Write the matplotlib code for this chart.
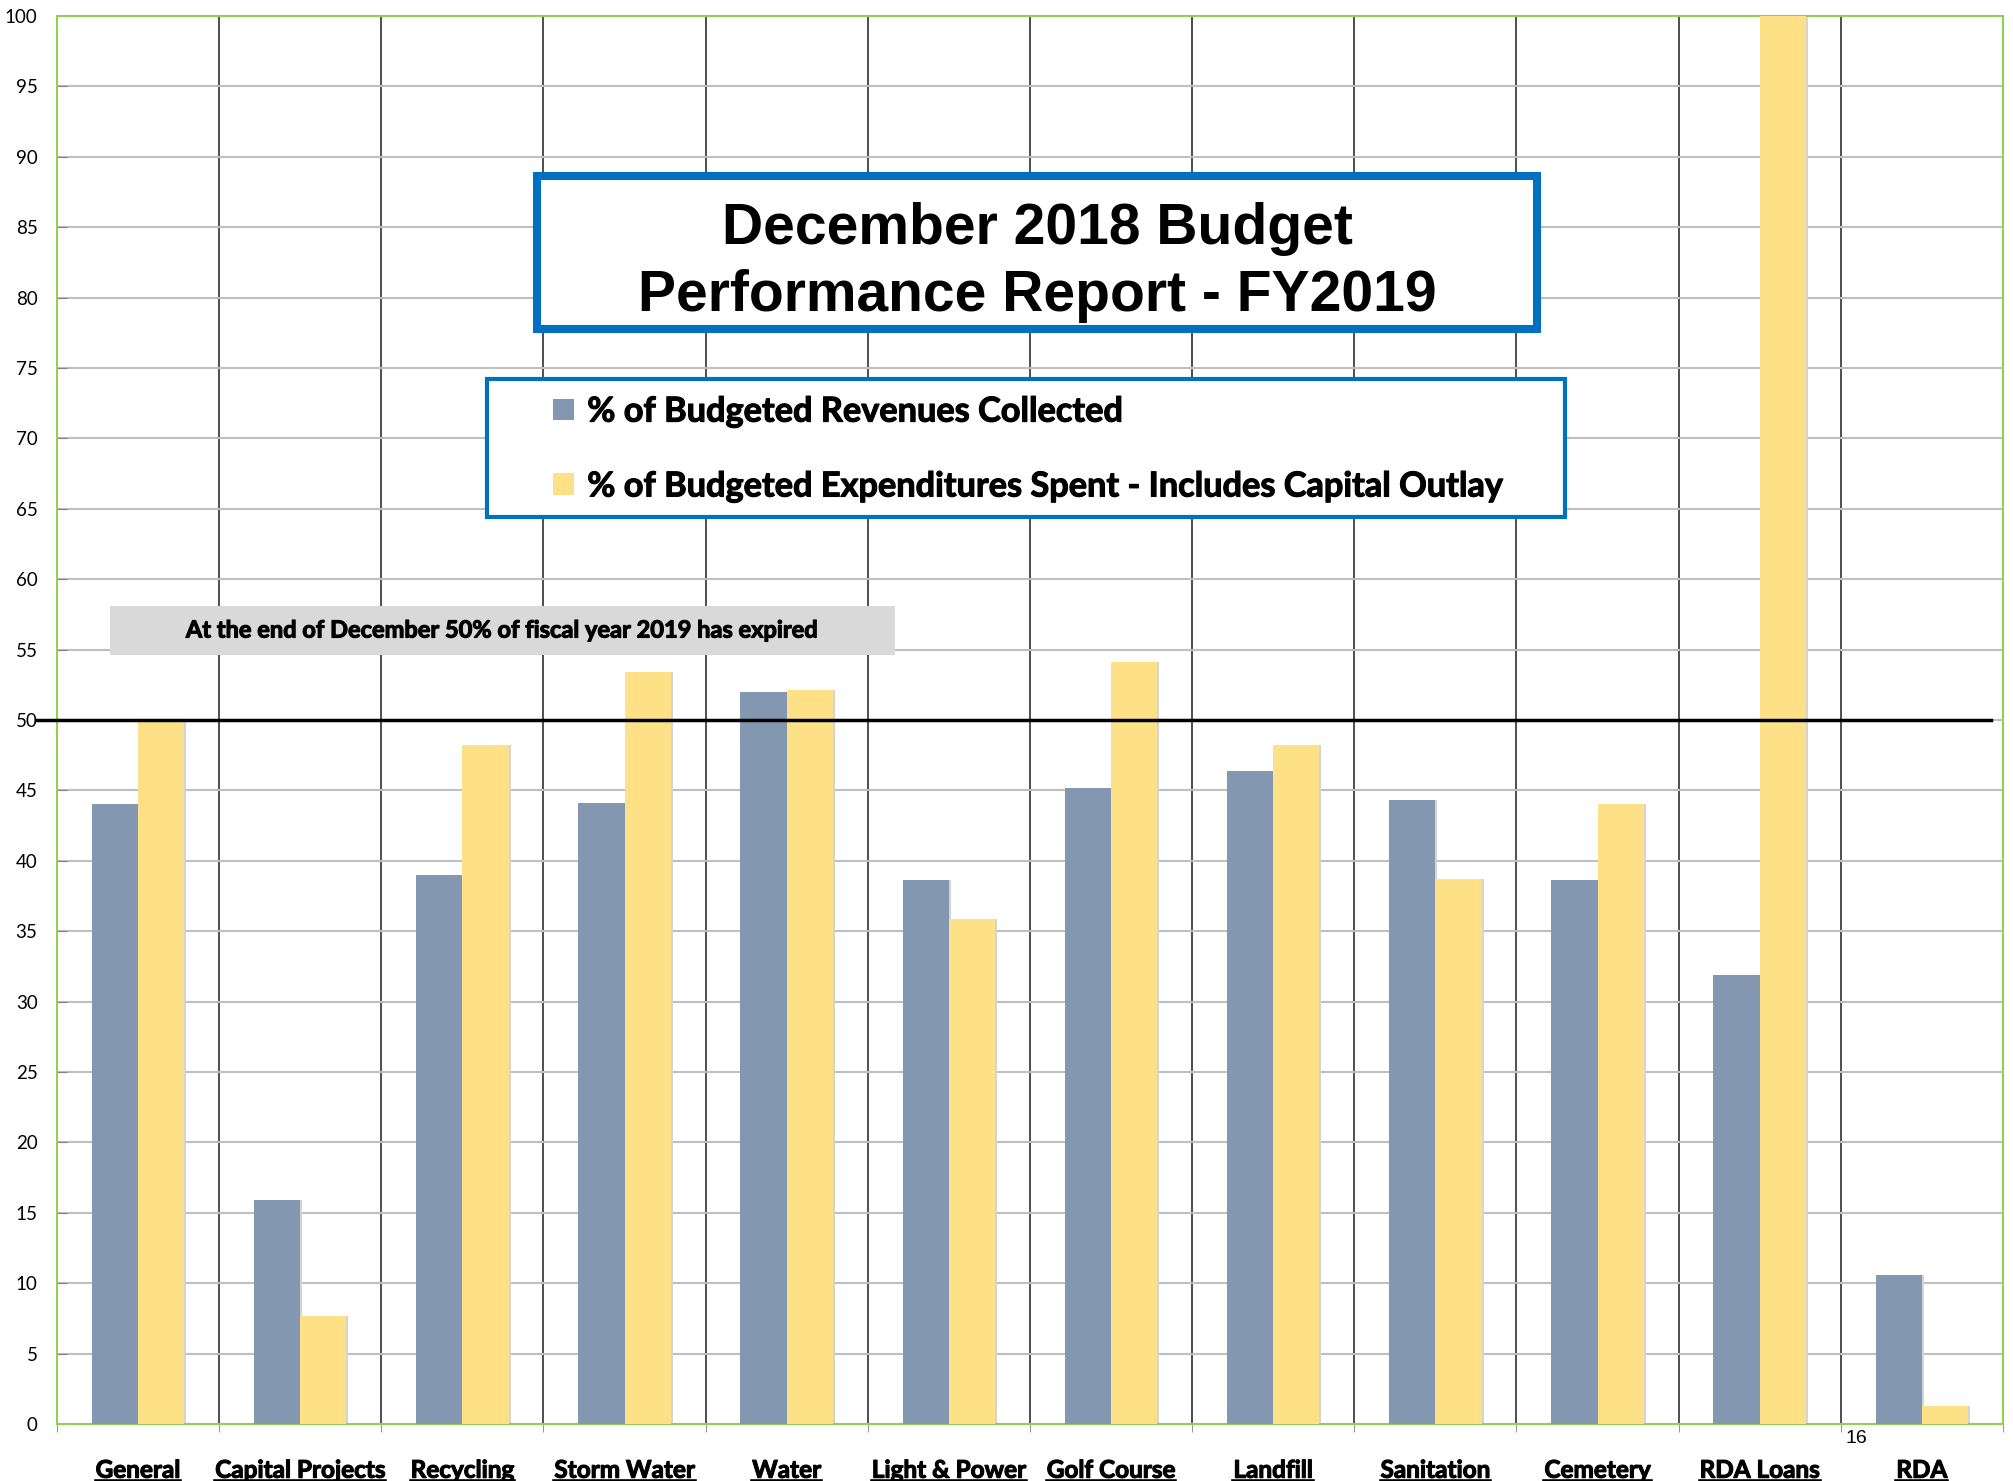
import numpy as np
import matplotlib
matplotlib.use('Agg')
import matplotlib.pyplot as plt
import matplotlib.patheffects as pe
from matplotlib.patches import Rectangle
from matplotlib.lines import Line2D

# data
funds = ['General', 'Capital Projects', 'Recycling', 'Storm Water', 'Water',
         'Light & Power', 'Golf Course', 'Landfill', 'Sanitation', 'Cemetery',
         'RDA Loans', 'RDA']
revenues = [44.0, 15.9, 39.0, 44.1, 52.0, 38.6, 45.2, 46.4, 44.3, 38.6, 31.9, 10.6]
expenditures = [50.0, 7.7, 48.2, 53.4, 52.1, 35.9, 54.1, 48.2, 38.7, 44.0, 100.0, 1.3]
yticks = list(range(0, 101, 5))

rev_label = '% of Budgeted Revenues Collected'
exp_label = '% of Budgeted Expenditures Spent - Includes Capital Outlay'
title = 'December 2018 Budget\nPerformance Report - FY2019'
note = 'At the end of December 50% of fiscal year 2019 has expired'
page_no = '16'

BLUE = '#8497B0'
YELLOW = '#FEE086'
FRAME = '#0070C0'
GREEN = '#92D050'
heavy = [pe.withStroke(linewidth=0.8, foreground='black')]

fig = plt.figure(figsize=(20.13, 14.81), dpi=100)
ax = fig.add_axes([0.0283, 0.0385, 0.9667, 0.9507])

x = np.arange(len(funds))
w = 0.285

# soft shadow behind the bars
ax.bar(x - w / 2 + 0.012, revenues, w, color='#d4d4d4', zorder=2)
ax.bar(x + w / 2 + 0.012, expenditures, w, color='#d4d4d4', zorder=2)
b1 = ax.bar(x - w / 2, revenues, w, color=BLUE, zorder=3)
b2 = ax.bar(x + w / 2, expenditures, w, color=YELLOW, zorder=3)

ax.set_xlim(-0.5, len(funds) - 0.5)
ax.set_ylim(0, 100)

ax.set_yticks(yticks)
ax.set_yticklabels([str(t) for t in yticks], fontsize=13.5, family='Lato')
ax.tick_params(axis='y', direction='in', length=7, color='#808080', pad=14)
ax.yaxis.grid(True, color='#BFBFBF', lw=1.5)

ax.set_xticks(x)
ax.set_xticklabels(funds, fontsize=17.5, family='Lato', fontweight='bold')
for lab in ax.get_xticklabels():
    lab.set_path_effects(heavy)
ax.tick_params(axis='x', which='major', length=0, pad=25)
ax.set_xticks(np.arange(-0.5, len(funds), 1), minor=True)
ax.tick_params(axis='x', which='minor', length=6, color='#808080', direction='out')
ax.xaxis.grid(True, which='minor', color='#404040', lw=1.3)
ax.set_axisbelow(True)

for s in ax.spines.values():
    s.set_color(GREEN)
    s.set_linewidth(1.5)

ax.axhline(50, xmin=-0.011, xmax=0.994, color='black', lw=2.5, clip_on=False, zorder=4)

# title box
fig.add_artist(Rectangle((0.2668, 0.7779), 0.4968, 0.1033, transform=fig.transFigure,
                         facecolor='white', edgecolor=FRAME, lw=5.8))
fig.text(0.5152, 0.8228, title, ha='center', va='center', fontsize=41,
         fontweight='bold', family='Liberation Sans', linespacing=1.3)

# legend box
fig.add_artist(Rectangle((0.2419, 0.6509), 0.5355, 0.0932, transform=fig.transFigure,
                         facecolor='white', edgecolor=FRAME, lw=3))
leg = fig.legend([b1, b2], [rev_label, exp_label], loc='center left',
                 bbox_to_anchor=(0.2662, 0.6968), frameon=False, borderpad=0,
                 prop={'family': 'Lato', 'weight': 'bold', 'size': 24.7},
                 handlelength=0.6, handleheight=0.6, handletextpad=0.4,
                 labelspacing=1.25)
for t in leg.get_texts():
    t.set_path_effects(heavy)

# note box
fig.add_artist(Rectangle((0.0546, 0.5577), 0.39, 0.0331, transform=fig.transFigure,
                         facecolor='#D9D9D9', edgecolor='none'))
fig.text(0.2496, 0.5746, note, ha='center', va='center', fontsize=17,
         fontweight='bold', family='Lato', path_effects=heavy)

fig.text(0.922, 0.029, page_no, ha='center', va='center', fontsize=14,
         family='Liberation Sans')

# underline the category labels
fig.canvas.draw()
r = fig.canvas.get_renderer()
inv = fig.transFigure.inverted()
for lab in ax.get_xticklabels():
    bb = lab.get_window_extent(r)
    y = bb.y0 + 0.5
    (fx0, fy), (fx1, _) = inv.transform([(bb.x0, y), (bb.x1, y)])
    fig.add_artist(Line2D([fx0, fx1], [fy, fy], transform=fig.transFigure,
                          color='black', lw=2.6))

fig.savefig('out.png', dpi=100)
